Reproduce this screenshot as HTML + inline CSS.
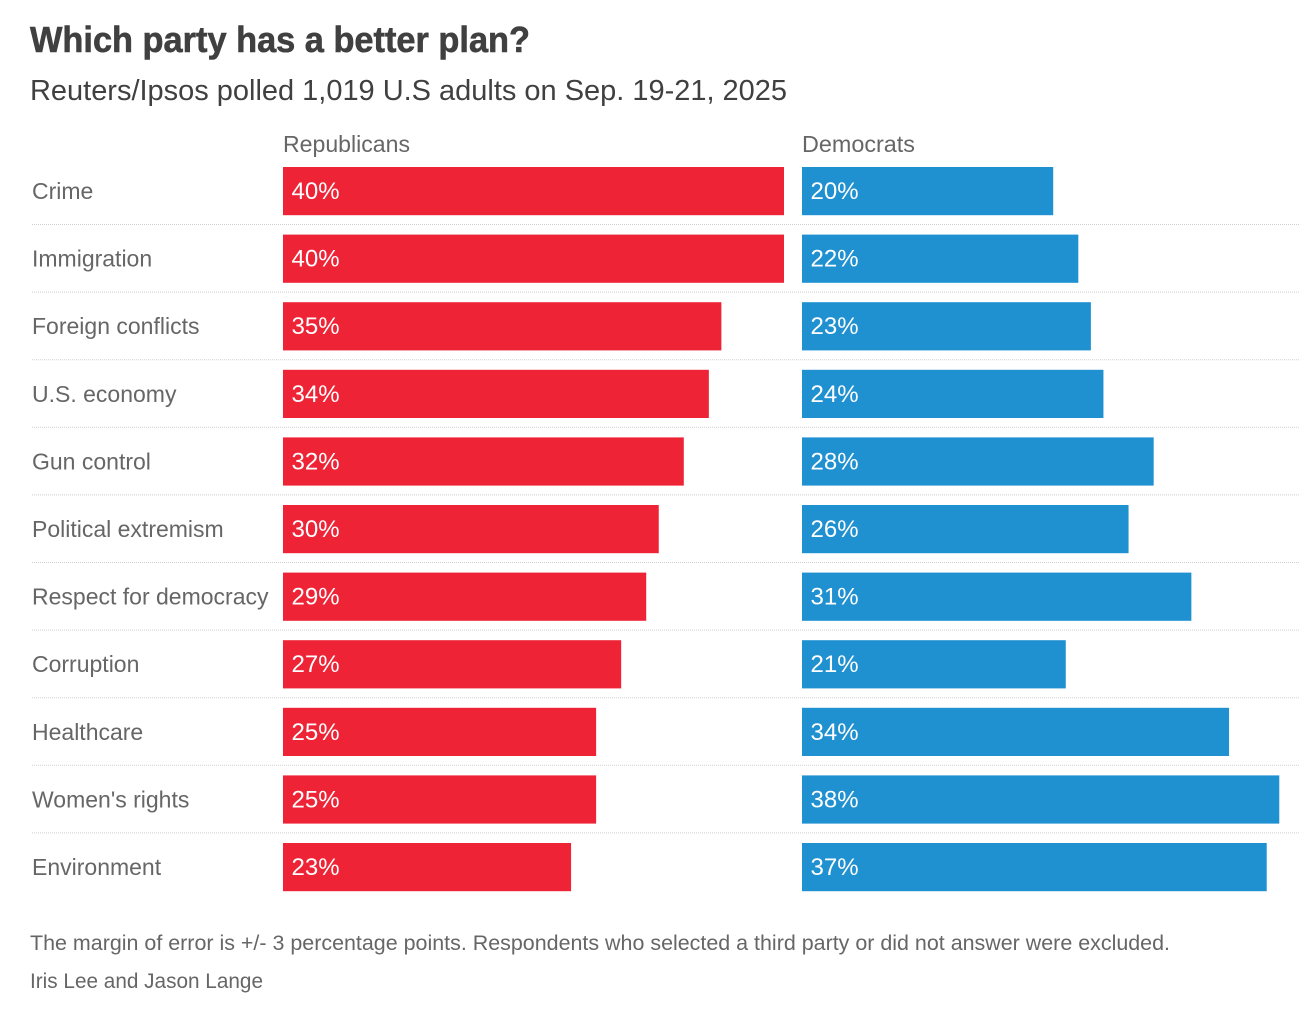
<!DOCTYPE html>
<html lang="en">
<head>
<meta charset="utf-8">
<title>Which party has a better plan?</title>
<style>
  html, body { margin: 0; padding: 0; background: #fff; }
  svg { display: block; font-family: "Liberation Sans", sans-serif; }
</style>
</head>
<body>
<svg id="chart" width="1300" height="1024" viewBox="0 0 1300 1024" xmlns="http://www.w3.org/2000/svg">
  <text x="30" y="52" font-size="36" font-weight="700" fill="#404040" stroke="#404040" stroke-width="0.6" textLength="500" lengthAdjust="spacingAndGlyphs">Which party has a better plan?</text>
  <text x="30" y="100" font-size="29" fill="#404040" textLength="757" lengthAdjust="spacingAndGlyphs">Reuters/Ipsos polled 1,019 U.S adults on Sep. 19-21, 2025</text>
  <text x="283" y="152" font-size="23" fill="#666666" textLength="127" lengthAdjust="spacingAndGlyphs">Republicans</text>
  <text x="802" y="152" font-size="23" fill="#666666" textLength="113" lengthAdjust="spacingAndGlyphs">Democrats</text>
  <g id="rows"></g>
  <text x="30" y="950" font-size="21.5" fill="#666666" textLength="1140" lengthAdjust="spacingAndGlyphs">The margin of error is +/- 3 percentage points. Respondents who selected a third party or did not answer were excluded.</text>
  <text x="30" y="988" font-size="21.5" fill="#666666" textLength="233" lengthAdjust="spacingAndGlyphs">Iris Lee and Jason Lange</text>
</svg>
<script>
const categories = ["Crime", "Immigration", "Foreign conflicts", "U.S. economy", "Gun control", "Political extremism", "Respect for democracy", "Corruption", "Healthcare", "Women's rights", "Environment"];
const republicans = [40, 40, 35, 34, 32, 30, 29, 27, 25, 25, 23];
const democrats = [20, 22, 23, 24, 28, 26, 31, 21, 34, 38, 37];

const NS = 'http://www.w3.org/2000/svg';
const rowsGroup = document.getElementById('rows');
const ROW_TOP = 167;
const ROW_PITCH = 67.6;
const BAR_HEIGHT = 48.2;
const REP_UNIT = 12.525;
const DEM_UNIT = 12.56;
const REP_X = 283;
const DEM_X = 802;

function yRow(index) { return ROW_TOP + index * ROW_PITCH; }

function make(tag, attrs) {
  const el = document.createElementNS(NS, tag);
  Object.keys(attrs).forEach(function (k) { el.setAttribute(k, attrs[k]); });
  rowsGroup.appendChild(el);
  return el;
}

function drawBar(x, y, value, unit, color, slug) {
  const bar = make('rect', { x: x, y: y, width: value * unit, height: BAR_HEIGHT, fill: color });
  
  
  const label = make('text', { x: x + 8.5, y: y + 32, 'font-size': 24, fill: '#ffffff' });
  
  
  label.textContent = value + '%';
}

categories.forEach(function (name, i) {
  const y = yRow(i);
  const slug = name.toLowerCase().replace(/[^a-z]+/g, '-');
  const cat = make('text', { x: 32, y: y + 32, 'font-size': 23, fill: '#666666' });
  
  
  cat.textContent = name;
  drawBar(REP_X, y, republicans[i], REP_UNIT, '#ee2436', 'republicans-' + slug);
  drawBar(DEM_X, y, democrats[i], DEM_UNIT, '#1f90d0', 'democrats-' + slug);
  if (i < categories.length - 1) {
    const sep = make('line', { x1: 32, x2: 1300, y1: y + 57.5, y2: y + 57.5, stroke: '#cfcfcf', 'stroke-width': 1, 'stroke-dasharray': '1 1' });
    
    
  }
});
</script>
</body>
</html>
